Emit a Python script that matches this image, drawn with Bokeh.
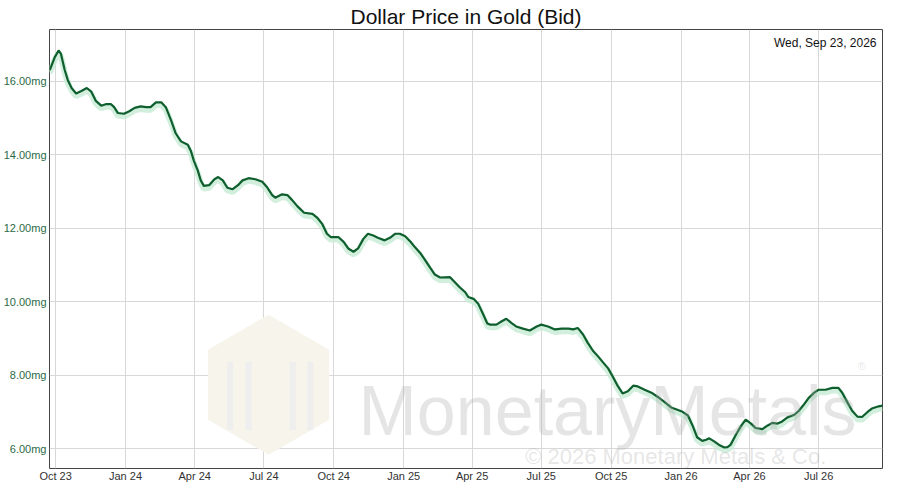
import math
import pandas as pd

from bokeh.plotting import figure
from bokeh.models import ColumnDataSource, Range1d, Label, FixedTicker, MonthsTicker, \
                         DatetimeTickFormatter, PrintfTickFormatter
from bokeh.transform import dodge
from bokeh.embed import file_html
from bokeh.resources import INLINE

# price of one dollar, in milligrams of gold
dates = [
    "2023-09-23", "2023-09-24", "2023-09-30", "2023-10-05", "2023-10-08", "2023-10-13", "2023-10-17",
    "2023-10-22", "2023-10-28", "2023-11-04", "2023-11-11", "2023-11-17", "2023-11-23", "2023-11-30",
    "2023-12-06", "2023-12-13", "2023-12-17", "2023-12-22", "2023-12-30",
    "2024-01-06", "2024-01-13", "2024-01-21", "2024-01-28", "2024-02-03", "2024-02-10", "2024-02-17",
    "2024-02-23", "2024-03-01", "2024-03-07", "2024-03-14", "2024-03-23", "2024-03-27", "2024-03-31",
    "2024-04-05", "2024-04-09", "2024-04-13", "2024-04-20", "2024-04-27", "2024-05-02", "2024-05-08",
    "2024-05-14", "2024-05-21", "2024-05-28", "2024-06-03", "2024-06-11", "2024-06-20", "2024-06-29",
    "2024-07-05", "2024-07-12", "2024-07-16", "2024-07-25", "2024-08-01", "2024-08-07", "2024-08-14",
    "2024-08-23", "2024-09-03", "2024-09-09", "2024-09-16", "2024-09-22", "2024-09-27", "2024-10-07",
    "2024-10-14", "2024-10-20", "2024-10-27", "2024-11-02", "2024-11-09", "2024-11-15", "2024-11-22",
    "2024-11-28", "2024-12-07", "2024-12-14", "2024-12-21", "2024-12-27",
    "2025-01-03", "2025-01-10", "2025-01-16", "2025-01-23", "2025-01-29", "2025-02-05", "2025-02-11",
    "2025-02-18", "2025-03-03", "2025-03-10", "2025-03-16", "2025-03-23", "2025-03-27", "2025-04-03",
    "2025-04-09", "2025-04-16", "2025-04-21", "2025-04-25", "2025-05-03", "2025-05-10", "2025-05-16",
    "2025-05-23", "2025-05-29", "2025-06-07", "2025-06-16", "2025-06-25", "2025-07-01", "2025-07-10",
    "2025-07-19", "2025-07-28", "2025-08-06", "2025-08-12", "2025-08-18", "2025-08-25", "2025-08-31",
    "2025-09-07", "2025-09-14", "2025-09-20", "2025-09-27", "2025-10-03", "2025-10-10", "2025-10-16",
    "2025-10-23", "2025-10-30", "2025-11-05", "2025-11-14", "2025-11-23", "2025-12-01", "2025-12-10",
    "2025-12-19", "2025-12-28",
    "2026-01-03", "2026-01-10", "2026-01-16", "2026-01-22", "2026-01-29", "2026-02-03", "2026-02-07",
    "2026-02-14", "2026-02-20", "2026-02-27", "2026-03-03", "2026-03-07", "2026-03-14", "2026-03-21",
    "2026-03-27", "2026-04-03", "2026-04-09", "2026-04-18", "2026-04-25", "2026-05-01", "2026-05-08",
    "2026-05-14", "2026-05-21", "2026-05-30", "2026-06-05", "2026-06-12", "2026-06-18", "2026-06-25",
    "2026-07-01", "2026-07-10", "2026-07-19", "2026-07-27", "2026-08-01", "2026-08-08", "2026-08-14",
    "2026-08-21", "2026-08-27", "2026-09-03", "2026-09-09", "2026-09-18", "2026-09-21", "2026-09-23",
]
mg_per_dollar = [
    16.30, 16.33, 16.65, 16.83, 16.74, 16.30, 16.03, 15.81, 15.66, 15.73, 15.81, 15.71, 15.46, 15.33,
    15.37, 15.37, 15.29, 15.13, 15.11,
    15.18, 15.27, 15.31, 15.29, 15.29, 15.42, 15.42, 15.29, 14.93, 14.58, 14.36, 14.27, 14.10, 13.83,
    13.57, 13.30, 13.15, 13.17, 13.33, 13.39, 13.30, 13.10, 13.06, 13.17, 13.30, 13.36, 13.33, 13.26,
    13.12, 12.90, 12.83, 12.92, 12.90, 12.77, 12.60, 12.42, 12.39, 12.29, 12.11, 11.85, 11.76, 11.76,
    11.63, 11.45, 11.36, 11.45, 11.71, 11.85, 11.80, 11.74, 11.67, 11.74, 11.85, 11.85,
    11.78, 11.63, 11.48, 11.32, 11.14, 10.92, 10.74, 10.66, 10.67, 10.52, 10.39, 10.26, 10.13, 10.08,
    9.95, 9.64, 9.41, 9.38, 9.38, 9.47, 9.54, 9.42, 9.33, 9.27, 9.22, 9.33, 9.38, 9.33,
    9.25, 9.27, 9.27, 9.25, 9.29, 9.11, 8.89, 8.67, 8.51, 8.36, 8.19, 7.97, 7.70, 7.51,
    7.57, 7.72, 7.70, 7.61, 7.53, 7.42, 7.28, 7.13, 7.06,
    7.01, 6.91, 6.64, 6.32, 6.22, 6.25, 6.29, 6.20, 6.11, 6.04, 6.05, 6.11, 6.38, 6.63,
    6.80, 6.69, 6.57, 6.54, 6.64, 6.71, 6.69, 6.75, 6.86, 6.93, 7.04, 7.22, 7.39, 7.53,
    7.61, 7.61, 7.66, 7.66, 7.53, 7.26, 7.04, 6.88, 6.87, 7.00, 7.10, 7.16, 7.17, 7.18,
]
y_ticks = [6, 8, 10, 12, 14, 16]
as_of = "Wed, Sep 23, 2026"

x_start, x_end = pd.Timestamp("2023-09-23"), pd.Timestamp("2026-09-23")
y_start, y_end = 5.47, 17.40

LINE = "#0f5f2e"
GLOW = "#c6ebd3"
FONT = "Liberation Sans"

src = ColumnDataSource(dict(date=pd.to_datetime(dates), value=mg_per_dollar))

p = figure(title="Dollar Price in Gold (Bid)",
           width=884, height=484,
           x_axis_type="datetime",
           x_range=Range1d(x_start, x_end),
           y_range=Range1d(y_start, y_end),
           min_border_left=0, min_border_right=2, min_border_top=0, min_border_bottom=0,
           output_backend="svg", toolbar_location=None)

p.title.align = "center"
p.title.offset = -17
p.title.standoff = 4
p.title.text_line_height = 0.9
p.title.text_font = FONT
p.title.text_font_size = "21px"
p.title.text_font_style = "normal"
p.title.text_color = "#111111"

p.outline_line_color = "#444444"
p.outline_line_width = 1

xticker = MonthsTicker(months=[0, 3, 6, 9])
p.xaxis.ticker = xticker
p.xgrid.ticker = xticker
p.xaxis.formatter = DatetimeTickFormatter(days="%b %y", months="%b %y", years="%b %y")
p.yaxis.ticker = FixedTicker(ticks=y_ticks)
p.yaxis.formatter = PrintfTickFormatter(format="%.2fmg")

for ax in (p.xaxis, p.yaxis):
    ax.axis_line_color = None
    ax.major_tick_line_color = None
    ax.minor_tick_line_color = None
    ax.major_tick_out = 0
    ax.major_tick_in = 0
    ax.minor_tick_out = 0
    ax.axis_label_standoff = 0
    ax.axis_label_text_font_size = "0px"
    ax.major_label_text_font = FONT
    ax.major_label_text_font_size = "11px"
p.xaxis.major_label_standoff = 1
p.yaxis.major_label_standoff = 3
p.xaxis.major_label_text_color = "#333333"
p.yaxis.major_label_text_color = "#2b6a45"
p.grid.grid_line_color = "#d8d8d8"


# watermark positions as fractions of the plot frame
def fx(f):
    return (x_start + (x_end - x_start) * f).value / 1e6


def fy(f):
    return y_start + (y_end - y_start) * f


p.scatter(x=[fx(0.263)], y=[fy(0.191)], marker="hex", size=140, angle=math.pi / 2,
          fill_color="#f7f4ec", line_color=None)
p.rect(x=[fx(0.217), fx(0.239), fx(0.292), fx(0.313)], y=[fy(0.165)] * 4,
       width=6, height=68, width_units="screen", height_units="screen",
       fill_color="#eeeeee", line_color=None)

# green glow just under the line, then the line itself
p.line(x="date", y=dodge("value", -0.07), source=src, line_width=6, line_color=GLOW, line_alpha=0.8)
p.line(x="date", y="value", source=src, line_width=2.2, line_color=LINE)

p.add_layout(Label(x=fx(0.371), y=fy(0.131), text="MonetaryMetals", text_font=FONT,
                   text_font_size="70px", text_color="#aaaaaa", text_alpha=0.3,
                   text_baseline="alphabetic"))
p.add_layout(Label(x=fx(0.97), y=fy(0.22), text="®", text_font=FONT,
                   text_font_size="11px", text_color="#aaaaaa", text_alpha=0.3))
p.add_layout(Label(x=fx(0.571), y=fy(0.027), text="© 2026 Monetary Metals & Co.", text_font=FONT,
                   text_font_size="22px", text_color="#aaaaaa", text_alpha=0.3,
                   text_baseline="alphabetic"))

p.add_layout(Label(x=x_end.value / 1e6, y=y_end, x_offset=-6, y_offset=-6, text=as_of,
                   text_align="right", text_baseline="top", text_font=FONT,
                   text_font_size="12px", text_color="#111111"))

open("out.html", "w").write(file_html(p, INLINE))
